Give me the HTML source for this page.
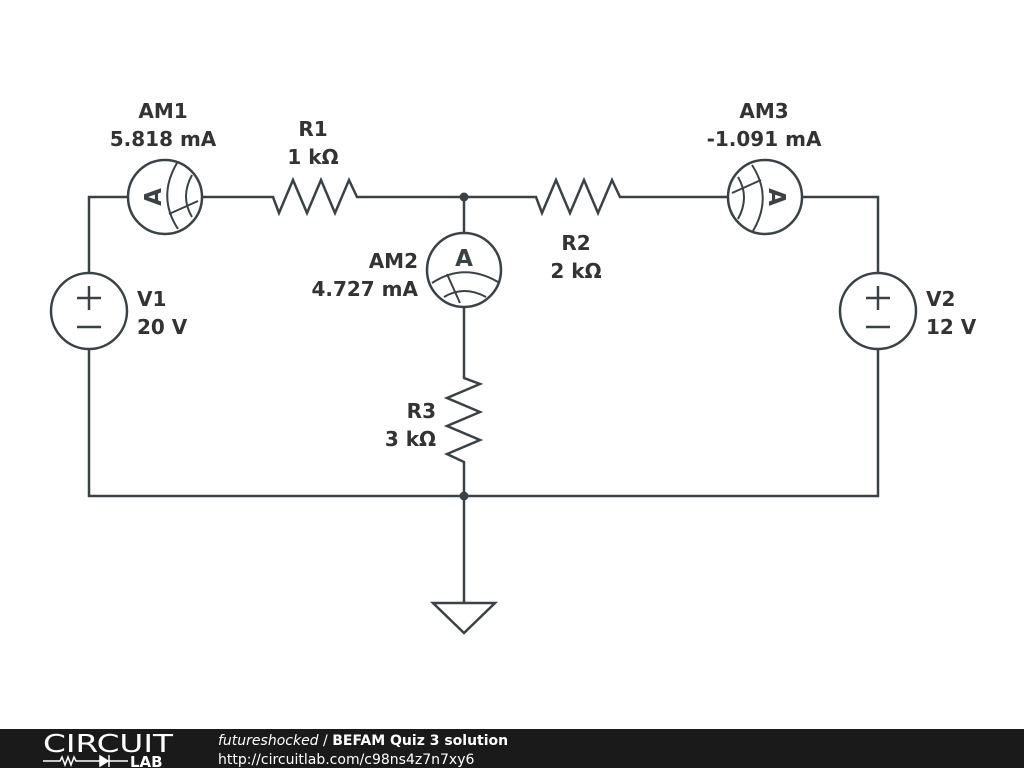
<!DOCTYPE html>
<html><head><meta charset="utf-8"><style>
html,body{margin:0;padding:0;background:#fff}
svg{display:block}
text{font-family:"DejaVu Sans","Liberation Sans",sans-serif}
</style></head><body>
<svg width="1024" height="768" viewBox="0 0 1024 768">
<defs>
<g id="am">
<circle cx="0" cy="0" r="37" fill="#fff" stroke="#3b4246" stroke-width="2.5"/>
<text x="0" y="-4" font-size="23" font-weight="bold" fill="#3b4246" text-anchor="middle">A</text>
<path d="M-32,13 Q0,-8 34,12" fill="none" stroke="#3b4246" stroke-width="2"/>
<path d="M-20,27 Q0,15 22,27" fill="none" stroke="#3b4246" stroke-width="2"/>
<path d="M-17,4 L-4,33" fill="none" stroke="#3b4246" stroke-width="2"/>
</g>
</defs>
<g stroke="#3b4246" stroke-width="2.5" fill="none">
<polyline points="127,197 89,197 89,273"/>
<polyline points="89,349 89,496 878,496 878,349"/>
<polyline points="878,273 878,197 803,197"/>
<polyline points="203,197 273,197 279,213 293,180 307,213 321,180 335,213 349,180 357,197 464,197 536,197 542,213 556,180 570,213 584,180 598,213 612,180 620,197 727,197"/>
<line x1="464" y1="197" x2="464" y2="233"/>
<polyline points="464,307 464,378 480,384 447,398 480,412 447,426 480,440 447,454 464,462 464,496"/>
<line x1="464" y1="496" x2="464" y2="603"/>
<polygon points="433,603 495,603 464,633"/>
<circle cx="89" cy="311" r="38" fill="#fff"/>
<circle cx="878" cy="311" r="38" fill="#fff"/>
<line x1="77" y1="298" x2="101" y2="298"/><line x1="89" y1="286" x2="89" y2="310"/>
<line x1="77" y1="327" x2="101" y2="327"/>
<line x1="866" y1="298" x2="890" y2="298"/><line x1="878" y1="286" x2="878" y2="310"/>
<line x1="866" y1="327" x2="890" y2="327"/>
</g>
<circle cx="464" cy="197" r="4.5" fill="#3b4246"/>
<circle cx="464" cy="496" r="4.5" fill="#3b4246"/>
<use href="#am" transform="translate(165,197) rotate(-90)"/>
<use href="#am" transform="translate(464,270)"/>
<use href="#am" transform="translate(765,197) rotate(90)"/>
<g font-size="20" font-weight="bold" fill="#333">
<text x="163" y="118" text-anchor="middle">AM1</text>
<text x="163" y="146" text-anchor="middle">5.818 mA</text>
<text x="313" y="136" text-anchor="middle">R1</text>
<text x="313" y="164" text-anchor="middle">1 kΩ</text>
<text x="764" y="118" text-anchor="middle">AM3</text>
<text x="764" y="146" text-anchor="middle">-1.091 mA</text>
<text x="576" y="250" text-anchor="middle">R2</text>
<text x="576" y="278" text-anchor="middle">2 kΩ</text>
<text x="418" y="268" text-anchor="end">AM2</text>
<text x="418" y="296" text-anchor="end">4.727 mA</text>
<text x="436" y="418" text-anchor="end">R3</text>
<text x="436" y="446" text-anchor="end">3 kΩ</text>
<text x="137" y="306">V1</text>
<text x="137" y="334">20 V</text>
<text x="926" y="306">V2</text>
<text x="926" y="334">12 V</text>
</g>
<rect x="0" y="729" width="1024" height="39" fill="#1a1a1a"/>
<text x="43" y="752" font-size="25" fill="#fff" font-family="Liberation Sans" textLength="130" lengthAdjust="spacingAndGlyphs">CIRCUIT</text>
<g stroke="#fff" stroke-width="1.5" fill="none">
<polyline points="43,761 60,761 62,757 65,765 68,757 71,765 74,757 76,761 100,761"/>
<polygon points="100,756 100,766 108,761" fill="#fff"/>
<line x1="109" y1="755" x2="109" y2="767"/>
<line x1="109" y1="761" x2="128" y2="761"/>
</g>
<text x="130" y="767" font-size="15" font-weight="bold" fill="#fff" font-family="Liberation Sans">LAB</text>
<text x="218" y="745" font-size="14" fill="#fff"><tspan font-style="italic">futureshocked</tspan> / <tspan font-weight="bold">BEFAM Quiz 3 solution</tspan></text>
<text x="218" y="764" font-size="14" fill="#fff">http://circuitlab.com/c98ns4z7n7xy6</text>
</svg>
</body></html>
